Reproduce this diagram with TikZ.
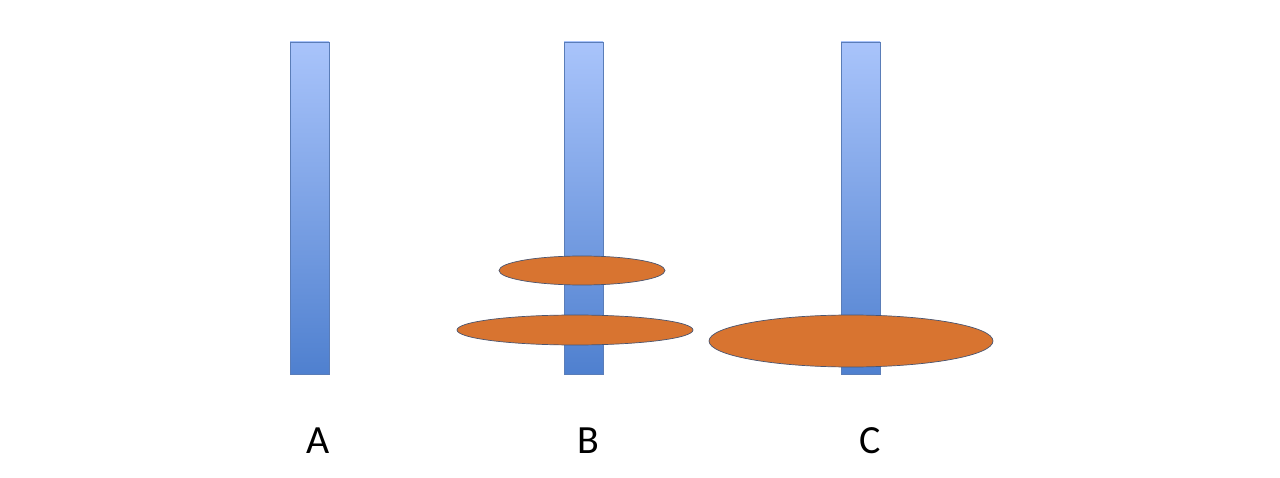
\documentclass[tikz,border=0pt]{standalone}
\usepackage{fontspec}
\setmainfont{Carlito}
\usetikzlibrary{shapes.geometric}
\definecolor{pegtop}{HTML}{A9C4FB}
\definecolor{pegbot}{HTML}{4F80CF}
\definecolor{pegline}{HTML}{5A7DB8}
\definecolor{diskfill}{HTML}{D87430}
\definecolor{diskline}{HTML}{4A5570}
\tikzset{
  peg/.style={rectangle, draw=pegline, line width=0.8pt, top color=pegtop, bottom color=pegbot, minimum width=39pt, minimum height=332pt, inner sep=0pt},
  disk/.style={ellipse, draw=diskline, line width=0.7pt, fill=diskfill, inner sep=0pt},
  lab/.style={font=\fontsize{40}{40}\selectfont, text=black}
}
\begin{document}
\begin{tikzpicture}[x=1pt,y=-1pt]
\useasboundingbox[fill=white] (0,0) rectangle (1280,478);
\node[peg] (pa) at (309.5,208) {};
\node[peg] (pb) at (583.5,208) {};
\node[peg] (pc) at (860.5,208) {};
\node[disk, minimum width=166pt, minimum height=29pt] (d1) at (582,270.5) {};
\node[disk, minimum width=236pt, minimum height=30pt] (d2) at (575,330) {};
\node[disk, minimum width=284pt, minimum height=52pt] (d3) at (851,341) {};
\node[lab] (la) at (318,441) {A};
\node[lab] (lb) at (588,441) {B};
\node[lab] (lc) at (870,441) {C};
\end{tikzpicture}
\end{document}
